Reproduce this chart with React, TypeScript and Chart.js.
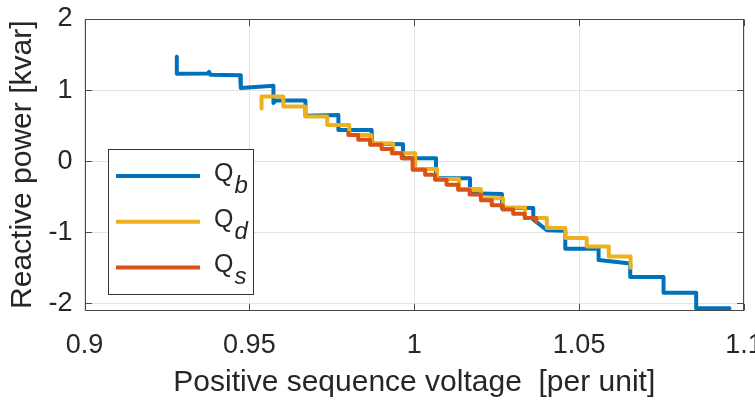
import React, { useEffect, useRef } from "react";
import { Chart, registerables } from "chart.js";

Chart.register(...registerables);

// ---- axis ticks ----
const xTicks = [0.9, 0.95, 1, 1.05, 1.1];
const xTickLabels = ["0.9", "0.95", "1", "1.05", "1.1"];
const yTicks = [-2, -1, 0, 1, 2];
const yTickLabels = ["-2", "-1", "0", "1", "2"];

// ---- series names / colours ----
const seriesSubscripts = ["b", "d", "s"];
const seriesColors = ["#0072BD", "#EDB120", "#D95319"];

// ---- Q_b : vertices of the measured staircase ----
const qbVoltage = [
  0.928, 0.928, 0.9374, 0.9378, 0.9382, 0.9472, 0.9474, 0.9573, 0.9573, 0.958,
  0.967, 0.967, 0.977, 0.977, 0.9871, 0.9871, 0.9966, 0.9966, 1.0066, 1.0066,
  1.0169, 1.0169, 1.0266, 1.0266, 1.0361, 1.0361, 1.0402, 1.0458, 1.0458, 1.0559,
  1.0559, 1.0655, 1.0655, 1.0756, 1.0756, 1.0855, 1.0855, 1.0956,
];
const qbPower = [
  1.47, 1.23, 1.235, 1.255, 1.215, 1.21, 1.03, 1.06, 0.82, 0.855,
  0.855, 0.64, 0.65, 0.44, 0.44, 0.25, 0.24, 0.04, 0.04, -0.24,
  -0.24, -0.45, -0.46, -0.66, -0.66, -0.82, -0.97, -0.98, -1.23, -1.23,
  -1.39, -1.44, -1.63, -1.63, -1.85, -1.85, -2.07, -2.07,
];

// ---- Q_d : step edges and levels ----
const qdEdges = [
  0.9537, 0.9603, 0.9669, 0.9736, 0.9803, 0.9869, 0.9936, 1.0003, 1.0069,
  1.0136, 1.0202, 1.0269, 1.0336, 1.0402, 1.0458, 1.0523, 1.059, 1.0656,
];
const qdLevels = [
  0.91, 0.77, 0.63, 0.51, 0.37, 0.25, 0.11, -0.11, -0.25, -0.39, -0.52, -0.65,
  -0.8, -0.94, -1.08, -1.2, -1.34,
];
const qdStart = 0.74;
const qdEnd = -1.5;

// ---- Q_s : step edges and levels ----
const qsEdges = [
  0.98, 0.983, 0.9866, 0.9901, 0.9932, 0.9962, 0.9995, 1.0033, 1.0063, 1.0098,
  1.0133, 1.0168, 1.0202, 1.0235, 1.0268, 1.03, 1.0335, 1.037,
];
const qsLevels = [
  0.37, 0.3, 0.23, 0.17, 0.11, 0.04, -0.12, -0.19, -0.26, -0.33, -0.4, -0.47,
  -0.55, -0.62, -0.68, -0.74, -0.8,
];
const qsStart = 0.4;
const qsEnd = -0.86;

function vertices(xs: number[], ys: number[]) {
  return xs.map((x, i) => ({ x, y: ys[i] }));
}

function stairs(edges: number[], levels: number[], start: number, end: number) {
  const pts: { x: number; y: number }[] = [{ x: edges[0], y: start }];
  levels.forEach((lv, i) => {
    pts.push({ x: edges[i], y: lv });
    pts.push({ x: edges[i + 1], y: lv });
  });
  pts.push({ x: edges[edges.length - 1], y: end });
  return pts;
}

const FONT = "'Liberation Sans', Arial, Helvetica, sans-serif";
const TEXT = "#262626";

const boxPlugin = {
  id: "matlabBoxLegend",
  afterDraw(chart: any) {
    const ctx = chart.ctx as CanvasRenderingContext2D;
    const { left, top, right, bottom } = chart.chartArea;
    const xs = chart.scales.x;
    const ys = chart.scales.y;
    ctx.save();
    // axes box
    ctx.strokeStyle = "#4a4a4a";
    ctx.lineWidth = 1;
    const L = Math.round(left) + 0.5;
    const T = Math.round(top) + 0.5;
    const R = Math.round(right) - 0.5;
    const B = Math.round(bottom) - 0.5;
    ctx.strokeRect(L, T, R - L, B - T);
    // inward ticks
    const tl = 6.5;
    ctx.beginPath();
    xTicks.forEach((v) => {
      const p = Math.round(xs.getPixelForValue(v)) + 0.5;
      ctx.moveTo(p, B);
      ctx.lineTo(p, B - tl);
      ctx.moveTo(p, T);
      ctx.lineTo(p, T + tl);
    });
    yTicks.forEach((v) => {
      const p = Math.round(ys.getPixelForValue(v)) + 0.5;
      ctx.moveTo(L, p);
      ctx.lineTo(L + tl, p);
      ctx.moveTo(R, p);
      ctx.lineTo(R - tl, p);
    });
    ctx.stroke();

    // legend
    const lx = Math.round(left) + 23 + 0.5;
    const ly = Math.round(top) + 130 + 0.5;
    const lw = 145;
    const lh = 145;
    ctx.fillStyle = "#ffffff";
    ctx.fillRect(lx, ly, lw, lh);
    ctx.strokeStyle = "#333333";
    ctx.strokeRect(lx, ly, lw, lh);
    seriesSubscripts.forEach((sub, i) => {
      const yy = ly + 26.5 + i * 45.7;
      ctx.strokeStyle = seriesColors[i];
      ctx.lineWidth = 4;
      ctx.beginPath();
      ctx.moveTo(lx + 7.5, yy);
      ctx.lineTo(lx + 91.5, yy);
      ctx.stroke();
      ctx.fillStyle = TEXT;
      ctx.textBaseline = "alphabetic";
      ctx.textAlign = "left";
      ctx.font = `25px ${FONT}`;
      ctx.fillText("Q", lx + 105.5, yy + 5);
      const qw = ctx.measureText("Q").width;
      ctx.font = `italic 24px ${FONT}`;
      ctx.fillText(sub, lx + 105.5 + qw + 1, yy + 17);
    });
    ctx.restore();
  },
};

export default function App() {
  const ref = useRef<HTMLCanvasElement>(null);
  useEffect(() => {
    document.body.style.margin = "0";
    const canvas = ref.current!;
    const data = [
      vertices(qbVoltage, qbPower),
      stairs(qdEdges, qdLevels, qdStart, qdEnd),
      stairs(qsEdges, qsLevels, qsStart, qsEnd),
    ];
    const chart = new Chart(canvas, {
      type: "line",
      data: {
        datasets: data.map((d, i) => ({
          label: "Q" + seriesSubscripts[i],
          data: d,
          borderColor: seriesColors[i],
          backgroundColor: seriesColors[i],
          borderWidth: 4,
          pointRadius: 0,
          fill: false,
          tension: 0,
          borderJoinStyle: "round" as const,
          borderCapStyle: "round" as const,
          order: 3 - i,
          clip: 6,
        })),
      },
      plugins: [boxPlugin],
      options: {
        responsive: false,
        animation: false,
        events: [],
        layout: { padding: { left: 0, right: 11, top: 19, bottom: 0 } },
        plugins: { legend: { display: false }, tooltip: { enabled: false } },
        scales: {
          x: {
            type: "linear",
            min: 0.9,
            max: 1.1,
            afterBuildTicks: (s: any) => {
              s.ticks = xTicks.map((v) => ({ value: v }));
            },
            afterFit: (s: any) => {
              s.height = 92.5;
              s.paddingLeft = 0;
              s.paddingRight = 0;
            },
            grid: { color: "#e3e3e3", lineWidth: 1, drawTicks: false },
            border: { display: false },
            ticks: {
              autoSkip: false,
              maxRotation: 0,
              padding: 19,
              color: TEXT,
              font: { family: FONT, size: 27 },
              callback: (_v: any, i: number) => xTickLabels[i],
            },
            title: {
              display: true,
              text: "Positive sequence voltage  [per unit]",
              color: TEXT,
              font: { family: FONT, size: 30 },
              padding: { top: 0, bottom: 2 },
            },
          },
          y: {
            type: "linear",
            min: -2.1,
            max: 2,
            afterBuildTicks: (s: any) => {
              s.ticks = yTicks.map((v) => ({ value: v }));
            },
            afterFit: (s: any) => {
              s.width = 84.5;
              s.paddingTop = 0;
              s.paddingBottom = 0;
            },
            grid: { color: "#e3e3e3", lineWidth: 1, drawTicks: false },
            border: { display: false },
            ticks: {
              autoSkip: false,
              padding: 12,
              color: TEXT,
              font: { family: FONT, size: 27 },
              callback: (_v: any, i: number) => yTickLabels[i],
            },
            title: {
              display: true,
              text: "Reactive power [kvar]",
              color: TEXT,
              font: { family: FONT, size: 30 },
              padding: { top: 5, bottom: 0 },
            },
          },
        },
      },
    });
    return () => chart.destroy();
  }, []);
  return (
    <div style={{ width: 755, height: 403, background: "#fff" }}>
      <canvas ref={ref} width={755} height={403} style={{ display: "block" }} />
    </div>
  );
}
